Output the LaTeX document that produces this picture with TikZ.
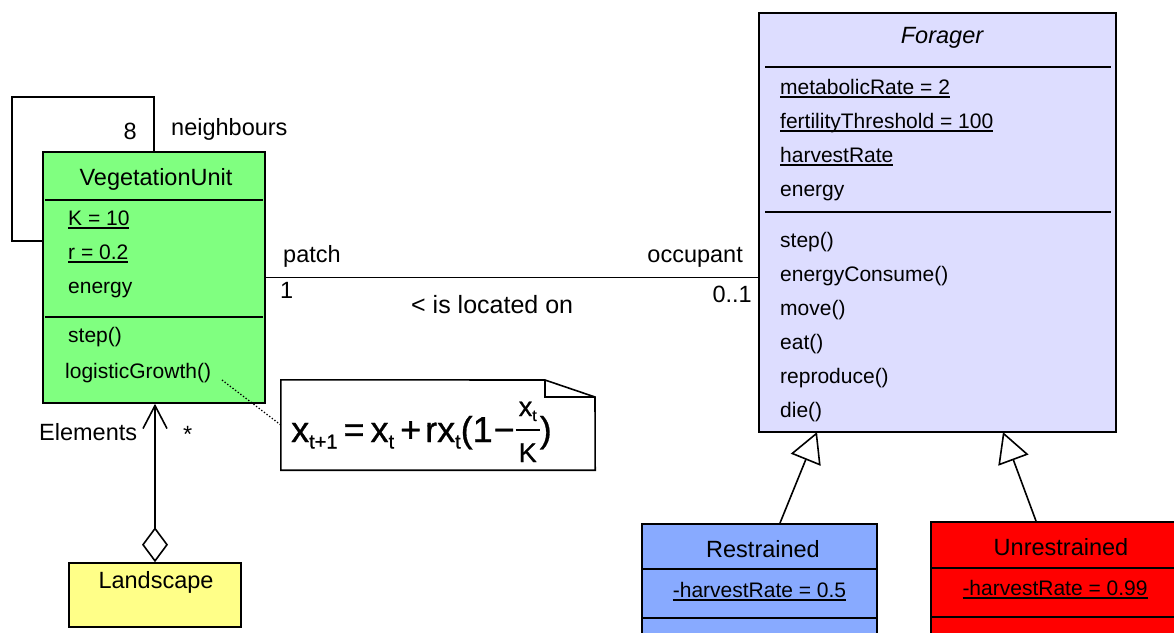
\documentclass[tikz,border=0pt]{standalone}
\usepackage{fontspec}
\setmainfont{Liberation Sans}
\newfontfamily\eqfont{Liberation Sans}[FakeBold=0.8]
\usetikzlibrary{arrows.meta}
\definecolor{vegc}{RGB}{128,255,128}
\definecolor{forc}{RGB}{221,221,255}
\definecolor{resc}{RGB}{136,170,255}
\definecolor{unrc}{RGB}{255,0,0}
\definecolor{lanc}{RGB}{255,255,136}
\newcommand{\myul}[1]{\setbox0\hbox{#1}\rlap{\vrule width\wd0 height -2pt depth 3.6pt}\box0}
\newcommand{\myfrac}[2]{\setbox1\hbox{#1}\setbox2\hbox{#2}%
  \dimen0=\ifdim\wd1>\wd2 \wd1\else\wd2\fi\advance\dimen0 by 6pt%
  \rlap{\hbox to\dimen0{\hss\raise26pt\box1\hss}}%
  \rlap{\hbox to\dimen0{\hss\lower20pt\box2\hss}}%
  \vrule width\dimen0 height 12.6pt depth -10.9pt}
\newcommand{\subt}[1]{\lower6.5pt\hbox{\fontsize{20}{21}\selectfont #1}}
\begin{document}
\begin{tikzpicture}[x=1pt,y=-1pt,
  cbox/.style={draw=black, line width=1.6pt, inner sep=0, rectangle},
  div/.style={line width=1.6pt},
  conn/.style={line width=1.6pt},
  mem/.style={anchor=base west, inner sep=0, font=\fontsize{21}{25}\selectfont},
  hdr/.style={anchor=base, inner sep=0, font=\fontsize{23.5}{28}\selectfont},
  lbl/.style={inner sep=0, font=\fontsize{23.5}{28}\selectfont}]
\useasboundingbox (0,0) rectangle (1174,632);
\clip (0,0) rectangle (1174,632);

% ---------------- VegetationUnit ----------------
\node[cbox, fill=vegc, minimum width=222, minimum height=251] (veg) at (154,277.5) {};
\draw[div] (45,200) -- (263,200);
\draw[div] (45,317) -- (263,317);
\node[hdr] (vegh) at (156,185) {VegetationUnit};
\node[mem] (vk) at (68,225) {\myul{K = 10}};
\node[mem] (vr) at (68,259) {\myul{r = 0.2}};
\node[mem] (ve) at (68,293) {energy};
\node[mem] (vs) at (68,342) {step()};
\node[mem] (lg) at (65,378) {logisticGrowth()};

% self association
\coordinate (sl1) at (12,241);
\coordinate (sl2) at (154,97);
\draw[conn] (veg.west |- sl1) -- (sl1) |- (sl2) -- (sl2 |- veg.north);
\node[lbl, anchor=base east] (l8) at (137,139) {8};
\node[lbl, anchor=base west] (lnb) at (171,135) {neighbours};

% ---------------- Forager ----------------
\node[cbox, fill=forc, minimum width=357, minimum height=419] (for) at (937.5,222.5) {};
\draw[div] (765,67) -- (1111,67);
\draw[div] (765,212) -- (1111,212);
\node[hdr, font=\fontsize{23.5}{28}\selectfont\itshape] (forh) at (942,43) {Forager};
\node[mem] (f1) at (780,94) {\myul{metabolicRate = 2}};
\node[mem] (f2) at (780,128) {\myul{fertilityThreshold = 100}};
\node[mem] (f3) at (780,162) {\myul{harvestRate}};
\node[mem] (f4) at (780,196) {energy};
\node[mem] (f5) at (780,247) {step()};
\node[mem] (f6) at (780,281) {energyConsume()};
\node[mem] (f7) at (780,315) {move()};
\node[mem] (f8) at (780,349) {eat()};
\node[mem] (f9) at (780,383) {reproduce()};
\node[mem] (f10) at (780,417) {die()};

% association veg - forager
\draw[conn] (veg.east) -- (veg.east -| for.west);
\node[lbl, anchor=base west] (lpatch) at (283,262) {patch};
\node[lbl, anchor=base west] (lone) at (280,298) {1};
\node[lbl, anchor=base west, font=\fontsize{25}{29}\selectfont] (lloc) at (411,313) {< is located on};
\node[lbl, anchor=base east] (locc) at (743,262) {occupant};
\node[lbl, anchor=base east] (lmul) at (752,302) {0..1};

% ---------------- Note ----------------
\node[inner sep=0, minimum width=314, minimum height=90] (note) at (438,425) {};
\draw[line width=1.6pt, fill=white] (note.north west) -- (545,380) -- (595,397) -- (note.south east) -- (note.south west) -- cycle;
\draw[line width=1.4pt] (545,380) -- (545,397) -- (595,397);
\node[anchor=base west, inner sep=0] (eq) at (291,442) {\eqfont\fontsize{36}{38}\selectfont x\subt{t+1}\kern6pt=\kern6pt x\subt{t}\kern6pt+\kern4pt rx\subt{t}(1\kern1pt−\kern1pt\myfrac{\fontsize{27}{29}\selectfont x\lower5pt\hbox{\fontsize{16}{17}\selectfont t}}{\fontsize{27}{29}\selectfont K})};
\coordinate (dstart) at (222,380);
\draw[line width=1.3pt, dotted] (dstart) -- (note.west);

% ---------------- Landscape ----------------
\node[cbox, fill=lanc, minimum width=172, minimum height=64] (land) at (155,595) {};
\node[hdr] (landh) at (156,588) {Landscape};
\draw[conn, {Diamond[open, length=35pt, width=26pt, line width=1.6pt]}-{Straight Barb[length=23pt, width=24pt, line width=1.6pt]}] (land.north) -- (land.north |- veg.south);
\node[lbl, anchor=base west] (lel) at (39,440) {Elements};
\node[lbl, anchor=base west] (lst) at (183,442) {*};

% ---------------- Restrained ----------------
\node[cbox, fill=resc, minimum width=235, minimum height=140] (res) at (759.5,594) {};
\draw[div] (res.west |- 0,569) -- (res.east |- 0,569);
\draw[div] (res.west |- 0,618) -- (res.east |- 0,618);
\node[hdr] (resh) at (763,557) {Restrained};
\node[hdr, font=\fontsize{21}{25}\selectfont] (resa) at (759.5,597) {\myul{-harvestRate = 0.5}};

% ---------------- Unrestrained ----------------
\node[cbox, fill=unrc, minimum width=255, minimum height=140] (unr) at (1058.5,592) {};
\draw[div] (unr.west |- 0,568) -- (unr.east |- 0,568);
\draw[div] (unr.west |- 0,617) -- (unr.east |- 0,617);
\node[hdr] (unrh) at (1061,555) {Unrestrained};
\node[hdr, font=\fontsize{21}{25}\selectfont] (unra) at (1055,595) {\myul{-harvestRate = 0.99}};

% generalisations
\coordinate (g1s) at (780,523);
\coordinate (g1e) at (817,432);
\coordinate (g2s) at (1036,521);
\coordinate (g2e) at (1003,432);
\draw[conn, -{Triangle[open, length=30pt, width=32pt, line width=1.6pt, fill=white]}] (g1s) -- (g1e);
\draw[conn, -{Triangle[open, length=30pt, width=32pt, line width=1.6pt, fill=white]}] (g2s) -- (g2e);
\end{tikzpicture}
\end{document}
